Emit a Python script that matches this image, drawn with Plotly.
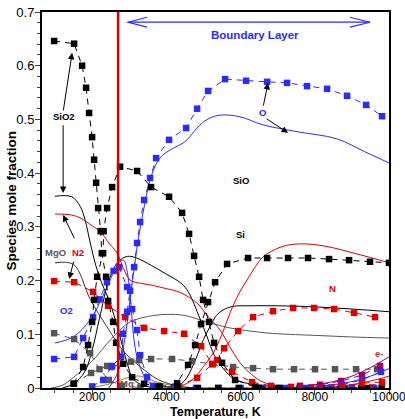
import plotly.graph_objects as go

# ---------------- data ----------------
# symbol series (dashed with squares)
sio2_T = [976, 1515, 1731, 1838, 1919, 2000, 2054, 2108, 2162, 2230, 2260, 2377, 2431, 2566, 2647, 2835, 3078, 3400, 3800, 4300, 4850, 5400, 5950, 6500, 7050, 7600, 8150, 8700, 9250, 9800]
sio2_y = [0.646, 0.641, 0.600, 0.559, 0.512, 0.467, 0.425, 0.382, 0.335, 0.292, 0.251, 0.207, 0.162, 0.123, 0.084, 0.045, 0.020, 0.008, 0.003, 0.001, 0, 0, 0, 0, 0, 0, 0, 0, 0, 0]

sio_T = [1500, 1758, 1892, 2000, 2054, 2135, 2296, 2310, 2404, 2539, 2754, 3212, 3589, 4074, 4425, 4613, 4748, 4883, 4990, 5152, 5287, 5502, 5852, 6391, 7000, 7600, 8200, 8800, 9400]
sio_y = [0.008, 0.039, 0.080, 0.123, 0.164, 0.207, 0.251, 0.292, 0.335, 0.374, 0.412, 0.404, 0.374, 0.356, 0.326, 0.287, 0.246, 0.207, 0.164, 0.123, 0.084, 0.047, 0.015, 0.002, 0, 0, 0, 0, 0]

si_T = [3830, 4290, 4586, 4775, 4936, 5125, 5314, 5637, 6203, 6715, 7280, 7819, 8385, 8924, 9489, 10000]
si_y = [0.002, 0.009, 0.043, 0.080, 0.119, 0.160, 0.197, 0.231, 0.242, 0.242, 0.242, 0.242, 0.240, 0.238, 0.235, 0.233]

o_T = [2000, 2300, 2539, 2781, 2835, 2943, 3024, 3131, 3212, 3293, 3401, 3562, 3724, 4074, 4532, 4829, 5125, 5583, 6149, 6715, 7253, 7792, 8331, 8870, 9382, 9813]
o_y = [0.003, 0.015, 0.041, 0.058, 0.101, 0.142, 0.181, 0.225, 0.270, 0.309, 0.350, 0.391, 0.428, 0.462, 0.484, 0.520, 0.553, 0.575, 0.572, 0.570, 0.568, 0.562, 0.557, 0.544, 0.527, 0.506]

o2_T = [976, 1515, 1758, 2027, 2200, 2400, 2580, 2727, 2943, 3078, 3212, 3293, 3482, 3643, 4200, 4800, 5400, 6000, 6600, 7200, 7800, 8400, 9000, 9600]
o2_y = [0.054, 0.058, 0.093, 0.132, 0.165, 0.197, 0.218, 0.225, 0.188, 0.147, 0.108, 0.061, 0.020, 0.004, 0, 0, 0, 0, 0, 0, 0, 0, 0, 0]

n2_T = [976, 1515, 2027, 2431, 2889, 3401, 3940, 4478, 4936, 5233, 5772, 6310, 6822, 7360, 7900, 8450, 9000, 9550]
n2_y = [0.199, 0.197, 0.179, 0.153, 0.132, 0.112, 0.106, 0.101, 0.078, 0.045, 0.030, 0.011, 0.004, 0.002, 0.001, 0.001, 0.001, 0.001]

n_T = [4300, 4829, 5367, 5556, 5933, 6337, 6876, 7415, 7981, 8519, 9058, 9624]
n_y = [0.003, 0.019, 0.052, 0.074, 0.106, 0.132, 0.143, 0.149, 0.149, 0.147, 0.140, 0.132]

mgo_T = [976, 1515, 1946, 2200, 2450, 2800, 3300]
mgo_y = [0.102, 0.091, 0.065, 0.035, 0.015, 0.004, 0.001]

mg_T = [1515, 1973, 2404, 2512, 3050, 3266, 3589, 4155, 4694, 5250, 5798, 6337, 6876, 7442, 8008, 8546, 9112, 9678]
mg_y = [0.008, 0.028, 0.041, 0.039, 0.049, 0.052, 0.054, 0.054, 0.050, 0.044, 0.039, 0.037, 0.035, 0.035, 0.035, 0.035, 0.035, 0.035]

em_T = [7603, 8142, 8708, 9273, 9758]
em_y = [0.004, 0.006, 0.013, 0.024, 0.041]
op_T = [8735, 9273, 9785]
op_y = [0.006, 0.015, 0.030]
np_T = [8735, 9273, 9812]
np_y = [0.003, 0.009, 0.011]

# solid-line series
sio2s_T = [1000, 1450, 1680, 1810, 1950, 2100, 2250, 2485, 2754, 2950, 3105, 3400, 3800]
sio2s_y = [0.357, 0.356, 0.338, 0.313, 0.270, 0.228, 0.197, 0.158, 0.095, 0.045, 0.017, 0.004, 0.0]

sios_T = [1200, 1500, 1800, 2000, 2200, 2450, 2700, 2950, 3200, 3600, 4000, 4400, 4600, 4900, 5100, 5300, 5550, 5800, 6100, 6700, 7500]
sios_y = [0.0, 0.008, 0.030, 0.070, 0.130, 0.200, 0.235, 0.245, 0.242, 0.228, 0.212, 0.195, 0.178, 0.130, 0.095, 0.060, 0.035, 0.018, 0.010, 0.004, 0.0]

sis_T = [4100, 4400, 4560, 4800, 5000, 5174, 5350, 5524, 5800, 6200, 7000, 8000, 9000, 10000]
sis_y = [0.0, 0.008, 0.020, 0.055, 0.090, 0.114, 0.135, 0.145, 0.152, 0.153, 0.153, 0.151, 0.147, 0.142]

n2s_T = [1000, 1450, 1700, 2000, 2215, 2450, 2673, 2850, 3022, 3300, 3562, 4000, 4367, 4829, 5100, 5448, 5700, 5987, 6300, 6607, 7000, 7500, 8000]
n2s_y = [0.324, 0.322, 0.316, 0.302, 0.292, 0.270, 0.251, 0.222, 0.201, 0.195, 0.192, 0.185, 0.178, 0.158, 0.135, 0.108, 0.078, 0.047, 0.025, 0.011, 0.004, 0.001, 0.0]

ns_T = [4000, 4400, 4700, 5000, 5260, 5500, 5718, 5950, 6175, 6400, 6607, 7065, 7500, 8000, 8500, 9000, 9500, 10000]
ns_y = [0.0, 0.004, 0.015, 0.040, 0.065, 0.100, 0.140, 0.175, 0.201, 0.226, 0.244, 0.262, 0.268, 0.267, 0.261, 0.252, 0.243, 0.233]

o2s_T = [1000, 1490, 1950, 2200, 2400, 2600, 2750, 2850, 2950, 3020, 3157, 3290, 3500, 3800]
o2s_y = [0.084, 0.095, 0.127, 0.158, 0.188, 0.218, 0.235, 0.238, 0.215, 0.175, 0.076, 0.040, 0.012, 0.0]

os_T = [2450, 2700, 2900, 3050, 3130, 3250, 3372, 3560, 3750, 3910, 4200, 4450, 4600, 4825, 5100, 5443, 5981, 6600, 7540, 8590, 9344, 10000]
os_y = [0.0, 0.030, 0.100, 0.180, 0.220, 0.280, 0.326, 0.387, 0.420, 0.434, 0.447, 0.456, 0.465, 0.484, 0.500, 0.508, 0.505, 0.490, 0.477, 0.464, 0.440, 0.419]

mgs_T = [900, 1200, 1500, 2000, 2500, 3000, 3500, 4000, 4500, 5000, 5700, 6500, 7000, 8000, 9000, 10000]
mgs_y = [0.0, 0.005, 0.020, 0.050, 0.090, 0.122, 0.133, 0.137, 0.135, 0.125, 0.112, 0.104, 0.101, 0.098, 0.095, 0.093]

mgos_T = [1000, 1500, 1950, 2400, 2830, 3290, 3800, 4300, 4800]
mgos_y = [0.233, 0.230, 0.165, 0.114, 0.070, 0.040, 0.015, 0.004, 0.0]

olive_T = [2000, 2500, 3000, 3300, 3700, 4200, 4800]
olive_y = [0.001, 0.008, 0.020, 0.022, 0.012, 0.004, 0.0]

ems_T = [7500, 8000, 8500, 9000, 9500, 10000]
ems_y = [0.002, 0.006, 0.012, 0.022, 0.038, 0.058]
ops_T = [8000, 8500, 9000, 9500, 10000]
ops_y = [0.002, 0.006, 0.012, 0.022, 0.036]
nps_T = [8500, 9000, 9500, 10000]
nps_y = [0.002, 0.006, 0.013, 0.022]

x_ticks = [2000, 4000, 6000, 8000, 10000]
x_ticklabels = ["2000", "4000", "6000", "8000", "10000"]

WALL_T = 2700
X_RANGE = [650, 10000]
Y_RANGE = [0, 0.7]

BLACK = "#000000"
BLUE = "#2b2bff"
RED = "#dd0000"
GRAY = "#555555"
PURPLE = "#a0005a"
OLIVE = "#8a8a20"

fig = go.Figure()

def solid(T, y, color, w=1.0):
    fig.add_trace(go.Scatter(x=T, y=y, mode="lines", line=dict(color=color, width=w, shape="spline"),
                             showlegend=False, hoverinfo="skip"))

def symb(T, y, color, lcolor=None):
    fig.add_trace(go.Scatter(x=T, y=y, mode="lines+markers",
                             line=dict(color=lcolor or color, width=1.0, dash="6px,5px"),
                             marker=dict(symbol="square", size=6.5, color=color),
                             showlegend=False, hoverinfo="skip"))

# solid lines
solid(olive_T, olive_y, OLIVE)
solid(mgos_T, mgos_y, "#333333")
solid(mgs_T, mgs_y, GRAY)
solid(sio2s_T, sio2s_y, BLACK)
solid(sios_T, sios_y, BLACK)
solid(sis_T, sis_y, BLACK)
solid(n2s_T, n2s_y, RED)
solid(ns_T, ns_y, RED)
solid(o2s_T, o2s_y, BLUE)
solid(os_T, os_y, BLUE)
solid(ems_T, ems_y, PURPLE)
solid(ops_T, ops_y, BLUE)
solid(nps_T, nps_y, RED)

# symbol lines
symb(mgo_T, mgo_y, GRAY)
symb(mg_T, mg_y, GRAY)
symb(n2_T, n2_y, RED)
symb(n_T, n_y, RED)
symb(o2_T, o2_y, BLUE)
symb(o_T, o_y, BLUE)
symb(sio2_T, sio2_y, BLACK)
symb(sio_T, sio_y, BLACK)
symb(si_T, si_y, BLACK)
symb(em_T, em_y, PURPLE)
symb(op_T, op_y, BLUE)
symb(np_T, np_y, RED)

# wall line
fig.add_shape(type="line", x0=WALL_T, x1=WALL_T, y0=Y_RANGE[0], y1=Y_RANGE[1], xref="x", yref="y",
              line=dict(color="#d40000", width=2.5))

# boundary layer double arrow
BL_Y = 0.681
BL_T0, BL_T1 = 2970, 9489
fig.add_shape(type="line", x0=BL_T0, x1=BL_T1, y0=BL_Y, y1=BL_Y, line=dict(color=BLUE, width=1.2))
fig.add_shape(type="path", path=f"M {BL_T0+510},{BL_Y+0.0093} L {BL_T0},{BL_Y} L {BL_T0+510},{BL_Y-0.0093}",
              line=dict(color=BLUE, width=1.2))
fig.add_shape(type="path", path=f"M {BL_T1-540},{BL_Y+0.0093} L {BL_T1},{BL_Y} L {BL_T1-540},{BL_Y-0.0093}",
              line=dict(color=BLUE, width=1.2))

LF = "Liberation Sans, Arial, sans-serif"

def label(T, y, text, color, size=9.5):
    fig.add_annotation(x=T, y=y, text=f"<b>{text}</b>", showarrow=False, font=dict(family=LF, size=size, color=color),
                       xanchor="center", yanchor="middle")

def arrow(tail, head, color=BLACK):
    fig.add_annotation(x=head[0], y=head[1], ax=tail[0], ay=tail[1], axref="x", ayref="y", xref="x", yref="y",
                       text="", showarrow=True, arrowhead=2, arrowsize=1.3, arrowwidth=1, arrowcolor=color)

label(6380, 0.657, "Boundary Layer", BLUE, 11.5)
label(1246, 0.505, "SiO2", BLACK)
label(6000, 0.387, "SiO", BLACK)
label(6000, 0.286, "Si", BLACK)
label(6580, 0.512, "O", BLUE)
label(8480, 0.186, "N", RED)
label(1623, 0.252, "N2", RED)
label(1003, 0.252, "MgO", GRAY)
label(1300, 0.144, "O2", BLUE)
label(9730, 0.064, "e-", "#c0304a")
label(2950, 0.009, "Mg", GRAY)

arrow((1219, 0.514), (1461, 0.624))
arrow((1219, 0.492), (1219, 0.363))
arrow((6607, 0.523), (6741, 0.568))
arrow((6661, 0.503), (7280, 0.475))
arrow((1542, 0.276), (1219, 0.322))
arrow((1515, 0.238), (1380, 0.203))

# axis titles as annotations (pixel-accurate placement)
fig.add_annotation(xref="paper", yref="paper", x=-0.088, y=0.5, text="<b>Species mole fraction</b>",
                   textangle=-90, showarrow=False, font=dict(family=LF, size=13.5, color="black"),
                   xanchor="center", yanchor="middle")
fig.add_annotation(xref="paper", yref="paper", x=0.5, y=-0.064, text="<b>Temperature, K</b>",
                   showarrow=False, font=dict(family=LF, size=12.5, color="black"),
                   xanchor="center", yanchor="middle")

fig.update_layout(
    width=405, height=419,
    margin=dict(l=42, r=16, t=12, b=31, autoexpand=False),
    paper_bgcolor="white", plot_bgcolor="white",
    font=dict(family=LF, size=13, color="black"),
    showlegend=False,
)
fig.update_xaxes(range=X_RANGE, tickvals=x_ticks, ticktext=x_ticklabels, automargin=False, ticklabeloverflow="allow",
                 ticklabelstandoff=-8,
                 ticks="outside", ticklen=5, tickwidth=1, showgrid=False, zeroline=False,
                 showline=True, linewidth=2, linecolor="black", mirror=True,
                 minor=dict(dtick=500, tick0=0, ticks="outside", ticklen=3, showgrid=False),
                 tickfont=dict(size=12))
fig.update_yaxes(range=Y_RANGE, dtick=0.1, tick0=0, automargin=False, ticks="outside", ticklen=5, tickwidth=1,
                 ticklabelstandoff=-2,
                 showgrid=False, zeroline=False,
                 showline=True, linewidth=2, linecolor="black", mirror=True,
                 minor=dict(dtick=0.02, ticks="outside", ticklen=3, showgrid=False),
                 tickfont=dict(size=13))

fig.write_html("out.html")
